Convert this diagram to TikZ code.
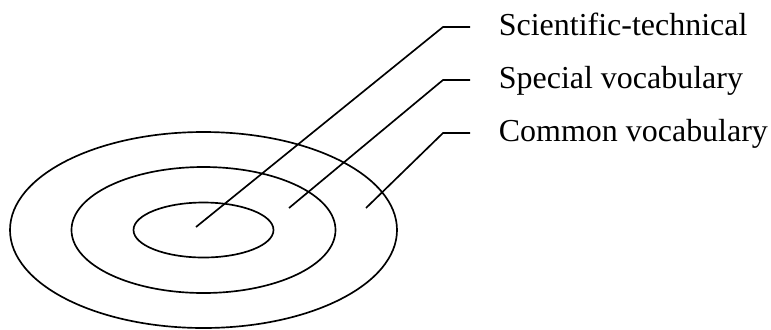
\documentclass[tikz,border=0pt]{standalone}
\usepackage{fontspec}
\setmainfont{Liberation Serif}
\usetikzlibrary{positioning}

\begin{document}
\begin{tikzpicture}[x=0.02cm, y=-0.02cm, line width=0.95pt,
    lab/.style={inner sep=0pt, anchor=base west, font=\fontsize{18.2}{22}\selectfont}]
  \useasboundingbox (0,0) rectangle (771,329);

  % Rings
  \coordinate (ctr) at (203.5,230);
  \draw (ctr) ellipse [x radius=193.5, y radius=98];
  \draw (ctr) ellipse [x radius=132, y radius=63];
  \draw (ctr) ellipse [x radius=70, y radius=27.5];

  % Labels
  \node[lab] (sci) at (498,35) {Scientific-technical};
  \node[lab] (spec) at (498,88) {Special vocabulary};
  \node[lab] (comm) at (498,141) {Common vocabulary};

  % Leader lines
  \coordinate (scitip) at (196,227);
  \coordinate (specttip) at (289,208);
  \coordinate (commtip) at (366,208);
  \foreach \t/\y in {scitip/27, specttip/80, commtip/133} {
    \draw (\t) -- (443,\y) -- (470,\y);
  }
\end{tikzpicture}
\end{document}
